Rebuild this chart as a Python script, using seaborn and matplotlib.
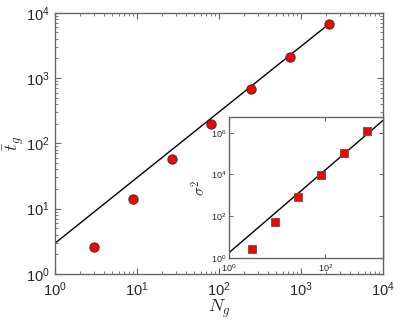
import numpy as np
import pandas as pd
import matplotlib
matplotlib.use('Agg')
import matplotlib.pyplot as plt
import seaborn as sns

# data
N_main = [3, 9, 27, 81, 243, 729, 2187]
t_main = [2.6, 14, 57, 200, 670, 2140, 6700]
fit_N = [1, 2300]
fit_t = [2.95, 7050]

N_inset = [3, 9, 27, 81, 243, 729]
s_inset = [2.8, 50, 800, 9800, 1.07e5, 1.2e6]
fit_N_inset = [1, 1585]
fit_s_inset = [1.8, 3.9e6]

sns.set_style('ticks')
plt.rcParams['font.family'] = ['Liberation Sans', 'DejaVu Sans']
plt.rcParams['mathtext.fontset'] = 'cm'
grey = '#666666'

fig = plt.figure(figsize=(4.15, 3.2), dpi=100)
ax = fig.add_axes([0.1325, 0.144, 0.790, 0.816])

main_df = pd.DataFrame({'N': N_main, 't': t_main})
fit_df = pd.DataFrame({'N': fit_N, 't': fit_t})
sns.lineplot(data=fit_df, x='N', y='t', color='black', lw=1, ax=ax)
sns.scatterplot(data=main_df, x='N', y='t', ax=ax, color='red', edgecolor='#333333',
                s=45, linewidth=0.7, zorder=3)
ax.set_xscale('log')
ax.set_yscale('log')
ax.set_xlim(1, 1e4)
ax.set_ylim(1, 1e4)
ax.set_xticks([1, 10, 100, 1000, 10000])
ax.set_yticks([1, 10, 100, 1000, 10000])
ax.tick_params(which='both', direction='in', top=True, right=True, color=grey,
               labelsize=10.5)
ax.tick_params(axis='x', pad=5)
ax.tick_params(axis='y', pad=4)
ax.tick_params(which='major', length=4, width=0.8)
ax.tick_params(which='minor', length=2, width=0.6)
for sp in ax.spines.values():
    sp.set_color(grey)
    sp.set_linewidth(1)
ax.set_xlabel(r'$N_g$', fontsize=13)
ax.xaxis.set_label_coords(0.5, -0.092)
ax.set_ylabel(r'$\bar{t}_g$', fontsize=13)
ax.yaxis.set_label_coords(-0.085, 0.5)

# inset
axi = fig.add_axes([0.552, 0.194, 0.371, 0.44])
inset_df = pd.DataFrame({'N': N_inset, 's': s_inset})
fit_inset_df = pd.DataFrame({'N': fit_N_inset, 's': fit_s_inset})
sns.lineplot(data=fit_inset_df, x='N', y='s', color='black', lw=1, ax=axi)
sns.scatterplot(data=inset_df, x='N', y='s', ax=axi, color='red', marker='s',
                edgecolor='#555555', s=28, linewidth=0.6, zorder=3)
axi.set_xscale('log')
axi.set_yscale('log')
axi.set_xlim(1, 1585)
axi.set_ylim(1, 5.6e6)
axi.set_xticks([1, 100])
axi.set_yticks([1, 1e2, 1e4, 1e6])
axi.minorticks_off()
axi.tick_params(which='both', direction='in', top=True, right=True, color=grey,
                labelsize=6.5, length=3, width=0.7, pad=2)
axi.tick_params(axis='x', pad=3.5)
for sp in axi.spines.values():
    sp.set_color(grey)
    sp.set_linewidth(1)
axi.set_xlabel('')
axi.set_ylabel(r'$\sigma^2$', fontsize=11, labelpad=2)

fig.savefig('out.png', dpi=100)
